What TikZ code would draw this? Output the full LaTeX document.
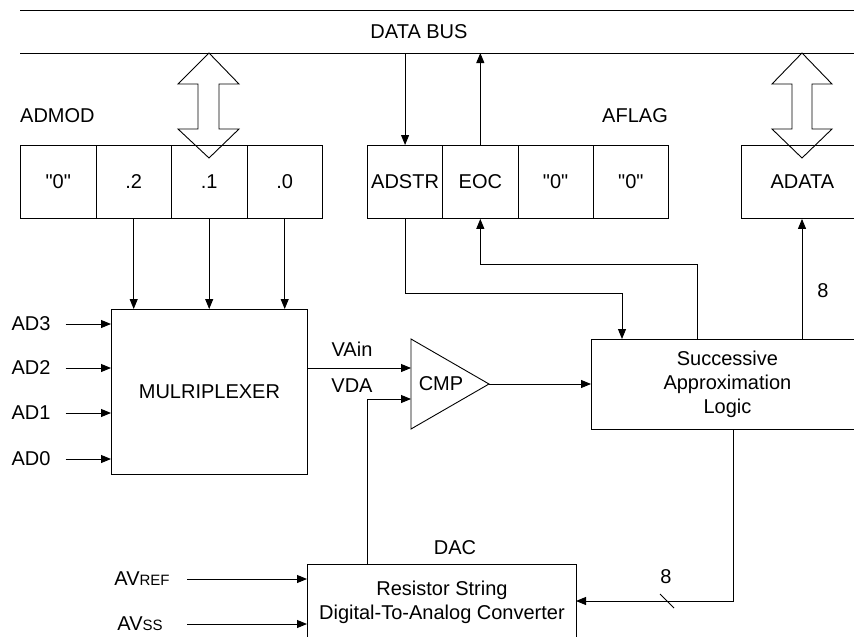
\documentclass[tikz,border=0pt]{standalone}
\usepackage{fontspec}
\setmainfont{Liberation Sans}[Ligatures=TeXOff]
\usetikzlibrary{arrows.meta}
\begin{document}
\begin{tikzpicture}[x=1pt,y=-1pt,
  every node/.style={font=\fontsize{20}{23.8}\selectfont, inner sep=0pt},
  box/.style={draw, line width=0.9pt, anchor=north west, align=center},
  wire/.style={line width=0.9pt},
  conn/.style={line width=0.9pt, -{Triangle[length=10pt,width=8pt]}},
  dblarrow/.style={draw, line width=0.9pt, fill=white, line join=miter}]
\useasboundingbox (0,0) rectangle (854,637);
% data bus
\coordinate (busTL) at (20,10);
\coordinate (busTR) at (870,10);
\coordinate (busBL) at (20,53);
\coordinate (busBR) at (870,53);
\draw[wire] (busTL) -- (busTR);
\draw[wire] (busBL) -- (busBR);
\node (bus) at (419,32) {DATA BUS};
% double arrows
\draw[dblarrow] (209,53) -- (239,84) -- (219,84) -- (219,129) -- (239,129) -- (209,158)
  -- (178,129) -- (198,129) -- (198,84) -- (178,84) -- cycle;
\draw[dblarrow] (802,53) -- (832,84) -- (812,84) -- (812,129) -- (832,129) -- (802,158)
  -- (772,129) -- (792,129) -- (792,84) -- (772,84) -- cycle;
% ADMOD
\node[anchor=base west] (admod) at (20,122) {ADMOD};
\node[box,minimum width=75.5pt,minimum height=73pt] (m0) at (20,145) {"0"};
\node[box,minimum width=75.5pt,minimum height=73pt] (m1) at (95.5,145) {.2};
\node[box,minimum width=75.5pt,minimum height=73pt] (m2) at (171,145) {.1};
\node[box,minimum width=75.5pt,minimum height=73pt] (m3) at (246.5,145) {.0};
% AFLAG
\node[anchor=base east] (aflag) at (668,122) {AFLAG};
\node[box,minimum width=75.25pt,minimum height=73pt] (f0) at (367,145) {ADSTR};
\node[box,minimum width=75.25pt,minimum height=73pt] (f1) at (442.25,145) {EOC};
\node[box,minimum width=75.25pt,minimum height=73pt] (f2) at (517.5,145) {"0"};
\node[box,minimum width=75.25pt,minimum height=73pt] (f3) at (592.75,145) {"0"};
% ADATA
\node[box,minimum width=122pt,minimum height=73pt] (ad) at (741,145) {ADATA};
% multiplexer
\node[box,minimum width=196pt,minimum height=165pt] (mux) at (111,309) {MULRIPLEXER};
% SAL
\node[box,minimum width=272pt,minimum height=90pt] (sal) at (591,339) {Successive\\Approximation\\Logic};
% DAC
\node[box,minimum width=269pt,minimum height=76pt] (dac) at (307,564) {Resistor String\\Digital-To-Analog Converter};
\node (daclbl) at (455,548) {DAC};
% comparator
\coordinate (cmpA) at (411,339);
\coordinate (cmpB) at (411,429);
\coordinate (cmpT) at (489,384);
\draw[wire, line join=miter] (cmpA) -- (cmpT) -- (cmpB) -- cycle;
\node (cmp) at (441,384) {CMP};
\coordinate (cmpIn1) at (411,368);
\coordinate (cmpIn2) at (411,399);
% bus connections
\draw[conn] (f0.north |- busBL) -- (f0.north);
\draw[conn] (f1.north) -- (f1.north |- busBL);
% ADMOD to mux
\draw[conn] (m1.south) -- (m1.south |- mux.north);
\draw[conn] (m2.south) -- (m2.south |- mux.north);
\draw[conn] (m3.south) -- (m3.south |- mux.north);
% analog inputs
\node (ad3) at (31,324) {AD3};
\node (ad2) at (31,368) {AD2};
\node (ad1) at (31,413) {AD1};
\node (ad0) at (31,459) {AD0};
\foreach \n in {ad3,ad2,ad1,ad0}{
  \draw[conn] ([xshift=15pt]\n.east) -- (\n -| mux.west);
}
% mux to cmp
\draw[conn] (cmpIn1 -| mux.east) -- (cmpIn1);
\node (vain) at (352,349) {VAin};
\node (vda) at (352,386) {VDA};
\coordinate (dacA) at (367,564);
\draw[conn] (dacA) |- (cmpIn2);
% cmp to SAL
\draw[conn] (cmpT) -- (cmpT -| sal.west);
% ADSTR to SAL
\coordinate (salA) at (622,339);
\coordinate (jA) at (622,293);
\draw[conn] (f0.south) |- (jA) -- (salA);
% SAL to EOC
\coordinate (salB) at (697,339);
\coordinate (jB) at (697,264);
\draw[conn] (salB) -- (jB) -| (f1.south);
% SAL to ADATA
\coordinate (salC) at (802,339);
\draw[conn] (salC) -- (salC |- ad.south);
\node (eightA) at (823,291) {8};
% SAL to DAC
\coordinate (salD) at (733,429);
\coordinate (dacIn) at (576,601);
\draw[conn] (salD) |- (dacIn);
\draw[wire] (660,594) -- (674,608);
\node (eightB) at (666,577) {8};
% reference inputs
\node (avref) at (142,579) {AV{\fontsize{15}{15}\selectfont REF}};
\node (avss) at (140,624) {AV{\fontsize{15}{15}\selectfont SS}};
\coordinate (avrefS) at (187,579);
\coordinate (avssS) at (187,624);
\draw[conn] (avrefS) -- (avrefS -| dac.west);
\draw[conn] (avssS) -- (avssS -| dac.west);
\end{tikzpicture}
\end{document}
